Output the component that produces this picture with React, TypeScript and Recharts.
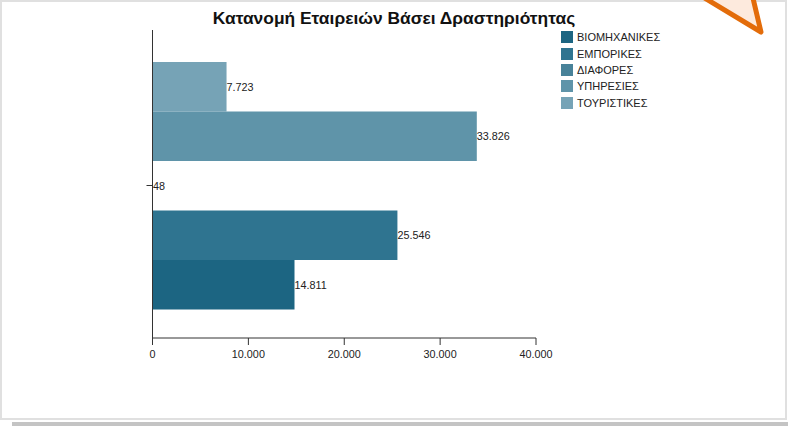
import { BarChart, Bar, XAxis, YAxis, LabelList } from 'recharts';

// top to bottom in the plot
const seriesNames = ['ΤΟΥΡΙΣΤΙΚΕΣ', 'ΥΠΗΡΕΣΙΕΣ', 'ΔΙΑΦΟΡΕΣ', 'ΕΜΠΟΡΙΚΕΣ', 'ΒΙΟΜΗΧΑΝΙΚΕΣ'];
const seriesValues = [7723, 33826, 48, 25546, 14811];
const seriesColors = ['#76a3b6', '#5f94a9', '#488299', '#2f7490', '#1c6582'];
const xTicks = [0, 10000, 20000, 30000, 40000];

const row: Record<string, number | string> = { name: '' };
seriesNames.forEach((n, i) => {
  row[n] = seriesValues[i];
});

const fontFamily = '"Liberation Sans", Arial, sans-serif';

// thousands separated with a dot
const fmt = (v: any) => String(v).replace(/\B(?=(\d{3})+(?!\d))/g, '.');

export default function App() {
  // legend runs the other way round from the bars
  const legendItems = seriesNames.map((n, i) => ({ n, c: seriesColors[i] })).reverse();

  return (
    <div style={{ position: 'absolute', left: 0, top: 0, width: 788, height: 426, background: '#fff', overflow: 'hidden', fontFamily }}>
      {/* page frame, scrollbar and the callout corner */}
      <div style={{ position: 'absolute', left: 0, top: 0, width: 783, height: 416, border: '2px solid #e0e0e0' }} />
      <div style={{ position: 'absolute', left: 12, top: 422, width: 776, height: 4, background: '#c4c4c4' }} />
      <svg width={788} height={426} style={{ position: 'absolute', left: 0, top: 0 }}>
        <path d="M698 -6 L761 32 L752 -6 Z" fill="#fdeadd" stroke="#e36c0a" strokeWidth={5} strokeLinejoin="round" />
      </svg>

      <div style={{ position: 'absolute', left: 0, top: 0 }}>
        <BarChart
          width={788}
          height={426}
          layout="vertical"
          data={[row]}
          margin={{ top: 30, right: 252, bottom: 58, left: 92.5 }}
          barGap={0}
          barSize={49.5}
        >
          <text x={394} y={24} textAnchor="middle" fontSize={17.4} fontWeight="bold" fill="#111" fontFamily={fontFamily}>
            Κατανομή Εταιρειών Βάσει Δραστηριότητας
          </text>
          <XAxis
            type="number"
            domain={[0, 40000]}
            ticks={xTicks}
            tickFormatter={fmt}
            stroke="#333"
            tickSize={7}
            tickMargin={5}
            tick={{ fontSize: 10.8, fill: '#222', fontFamily }}
            interval={0}
          />
          <YAxis
            type="category"
            dataKey="name"
            width={60}
            stroke="#333"
            tickSize={6}
            tickFormatter={() => ''}
            padding={{ top: 3, bottom: 0 }}
          />
          {seriesNames.map((n, i) => (
            <Bar key={n} dataKey={n} fill={seriesColors[i]} isAnimationActive={false}>
              <LabelList
                dataKey={n}
                position="right"
                offset={0}
                formatter={fmt}
                style={{ fontSize: 10.8, fill: '#222', fontFamily }}
              />
            </Bar>
          ))}
        </BarChart>
      </div>

      <div style={{ position: 'absolute', left: 561, top: 29 }}>
        {legendItems.map((it) => (
          <div key={it.n} style={{ display: 'flex', alignItems: 'center', height: 16.4, fontSize: 11, color: '#222' }}>
            <span style={{ width: 12, height: 12, background: it.c, marginRight: 4, flex: 'none' }} />
            {it.n}
          </div>
        ))}
      </div>
    </div>
  );
}
